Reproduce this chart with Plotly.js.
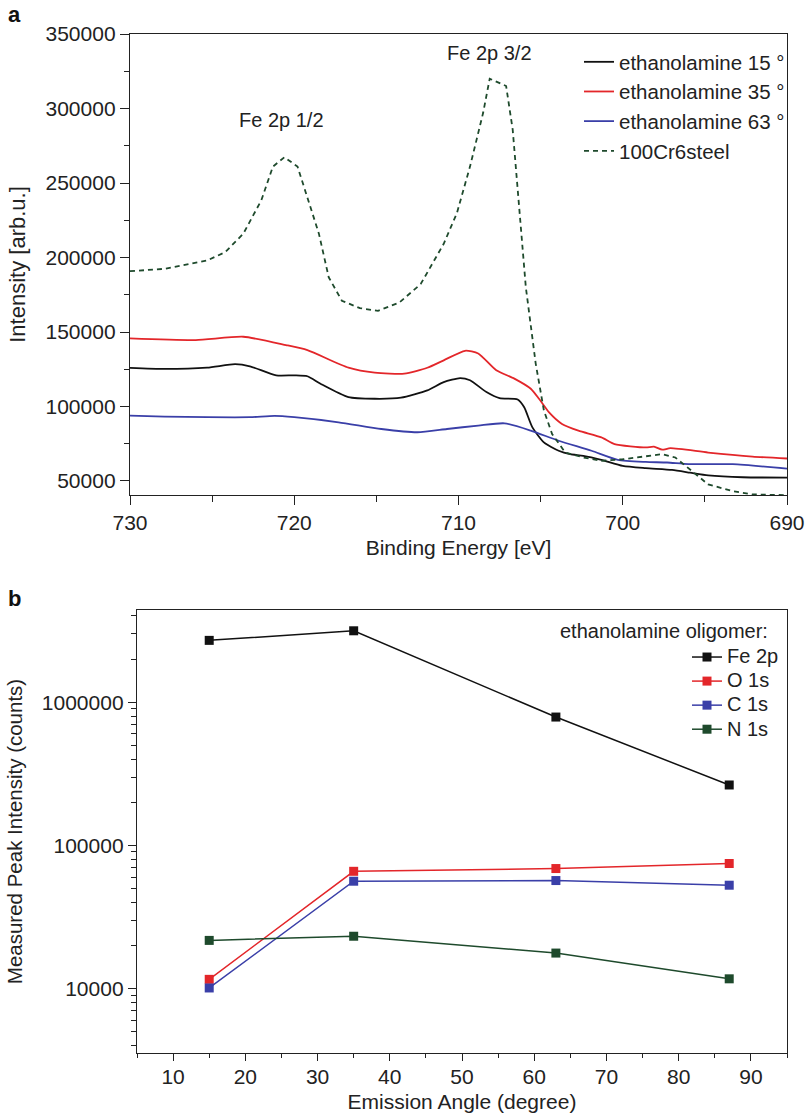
<!DOCTYPE html>
<html>
<head>
<meta charset="utf-8">
<script src="https://cdn.plot.ly/plotly-3.0.1.min.js"></script>
<style>html,body{margin:0;padding:0;background:#fff;}#chart{width:808px;height:1120px;}</style>
</head>
<body>
<div id="chart"></div>
<script>
// ---- Panel a: XPS Fe 2p spectra ----
const e15 = [730, 727.9, 725.3, 723.6, 722.7, 721.1, 720, 719.2, 718.4, 716.7, 715.1, 713.5, 711.9, 710.9, 709.9, 709.3, 708.3, 707.5, 706.4, 706, 705.5, 704.8, 703.9, 703.2, 702.4, 701.3, 700, 698.6, 697, 695.9, 694.8, 692.7, 690];
const i15 = [125900, 125200, 126100, 128400, 127000, 120900, 120900, 120300, 115300, 106300, 105200, 105900, 110800, 116400, 119100, 117600, 109700, 105600, 104700, 99500, 86000, 75900, 70300, 68000, 66900, 64200, 60100, 58600, 57400, 55600, 53800, 52500, 52300];

const e35 = [730, 726, 723.1, 720.5, 719.2, 716.7, 715.1, 713.3, 711.9, 710.9, 709.6, 708.8, 707.7, 706.6, 705.6, 705.1, 704.5, 703.7, 702.7, 701.3, 700.5, 698.6, 698.1, 697.6, 697.1, 694.8, 692.1, 690];
const i35 = [145700, 144600, 146800, 141200, 137800, 126100, 122700, 122000, 126000, 131000, 137400, 135600, 124300, 118700, 111900, 105200, 96200, 88300, 83800, 79300, 74800, 72500, 73000, 71000, 72000, 69100, 66400, 65100];

const e63 = [730, 727.9, 725.3, 722.7, 721.2, 720, 717.3, 714.7, 712.5, 710.7, 708.8, 707.2, 705.6, 703.9, 701.9, 700.3, 698.6, 697.3, 696, 693.3, 690];
const i63 = [93900, 93200, 92800, 92800, 93700, 92800, 89400, 84900, 82700, 84900, 87200, 88700, 83800, 77000, 70300, 64200, 62800, 62400, 61300, 61300, 58300];

const eSteel = [730, 727.9, 725.3, 724.2, 723.1, 722, 721.3, 720.6, 719.8, 719.2, 718.5, 717.9, 717.1, 716, 714.9, 713.6, 712.3, 710.9, 710.1, 709.3, 708.5, 708.1, 707.1, 706.7, 706.3, 705.9, 705.3, 704.8, 704.3, 703.5, 702.4, 701.3, 700, 698.7, 697.6, 696.8, 695.9, 694.8, 693.3, 692.1, 690];
const iSteel = [190800, 192400, 198000, 203600, 216000, 238500, 261000, 267300, 261000, 240800, 216000, 186700, 171000, 166000, 164200, 169800, 182200, 209200, 229700, 261000, 297100, 320000, 315100, 285800, 234000, 180000, 128800, 97300, 81500, 69100, 65800, 63500, 64600, 66400, 68000, 65800, 57900, 47700, 43200, 41000, 40500];

// ---- Panel b: peak intensity vs emission angle ----
const angles = [15, 35, 63, 87];
const fe2p = [2700000, 3150000, 787000, 264000];
const o1s = [11600, 65900, 68900, 74700];
const c1s = [10100, 56200, 56800, 52700];
const n1s = [21700, 23200, 17700, 11700];

const logTickVals = [10000, 100000, 1000000];
const logTickText = ['10000', '100000', '1000000'];

const W = 808, H = 1120;
const FONT = 'Liberation Sans, Arial, Helvetica, sans-serif';
const RED = '#e3262a', BLUE = '#3a3fa8', GREEN = '#1e4a2c', BLACK = '#111111';
const big = s => '<span style="font-size:20px">' + s + '</span>';

const traces = [
  {x: e15, y: i15, name: 'ethanolamine 15 °', mode: 'lines', line: {color: BLACK, width: 1.8, shape: 'spline', smoothing: 0.6}, xaxis: 'x', yaxis: 'y', legend: 'legend'},
  {x: e35, y: i35, name: 'ethanolamine 35 °', mode: 'lines', line: {color: RED, width: 1.8, shape: 'spline', smoothing: 0.6}, xaxis: 'x', yaxis: 'y', legend: 'legend'},
  {x: e63, y: i63, name: 'ethanolamine 63 °', mode: 'lines', line: {color: BLUE, width: 1.8, shape: 'spline', smoothing: 0.6}, xaxis: 'x', yaxis: 'y', legend: 'legend'},
  {x: eSteel, y: iSteel, name: '100Cr6steel', mode: 'lines', line: {color: GREEN, width: 1.8, dash: '5px,4px'}, xaxis: 'x', yaxis: 'y', legend: 'legend'},
  {x: angles, y: fe2p, name: big('Fe 2p'), mode: 'lines+markers', line: {color: BLACK, width: 1.5}, marker: {symbol: 'square', size: 9, color: BLACK}, xaxis: 'x2', yaxis: 'y2', legend: 'legend2'},
  {x: angles, y: o1s, name: big('O 1s'), mode: 'lines+markers', line: {color: RED, width: 1.5}, marker: {symbol: 'square', size: 9, color: RED}, xaxis: 'x2', yaxis: 'y2', legend: 'legend2'},
  {x: angles, y: c1s, name: big('C 1s'), mode: 'lines+markers', line: {color: BLUE, width: 1.5}, marker: {symbol: 'square', size: 9, color: BLUE}, xaxis: 'x2', yaxis: 'y2', legend: 'legend2'},
  {x: angles, y: n1s, name: big('N 1s'), mode: 'lines+markers', line: {color: GREEN, width: 1.5}, marker: {symbol: 'square', size: 9, color: GREEN}, xaxis: 'x2', yaxis: 'y2', legend: 'legend2'}
];

const axisCommon = {
  showline: true, linecolor: '#222', linewidth: 1.2, mirror: true,
  ticks: 'outside', ticklen: 9, tickwidth: 1, tickcolor: '#222',
  showgrid: false, zeroline: false,
  tickfont: {family: FONT, size: 21, color: '#222'},
  automargin: false
};

const layout = {
  width: W, height: H,
  margin: {l: 0, r: 0, t: 0, b: 0},
  paper_bgcolor: '#fff', plot_bgcolor: '#fff',
  font: {family: FONT, color: '#222'},
  showlegend: true,
  xaxis: Object.assign({}, axisCommon, {
    domain: [130 / W, 787 / W], anchor: 'y',
    range: [730, 690], tick0: 690, dtick: 10,
    minor: {dtick: 5, ticks: 'outside', ticklen: 6, tickcolor: '#222'},
    title: {text: 'Binding Energy [eV]', font: {family: FONT, size: 21, color: '#222'}, standoff: 6}
  }),
  yaxis: Object.assign({}, axisCommon, {
    domain: [1 - 495 / H, 1 - 34 / H], anchor: 'x',
    range: [40600, 350000], tick0: 0, dtick: 50000, tickformat: 'd',
    minor: {dtick: 25000, ticks: 'outside', ticklen: 5, tickcolor: '#222'},
    title: {text: 'Intensity [arb.u.]', font: {family: FONT, size: 22, color: '#222'}, standoff: 13}
  }),
  xaxis2: Object.assign({}, axisCommon, {
    domain: [137 / W, 787 / W], anchor: 'y2',
    range: [5, 95], tick0: 10, dtick: 10, ticklen: 7, ticklabelstandoff: -2,
    minor: {dtick: 5, ticks: 'outside', ticklen: 4, tickcolor: '#222'},
    title: {text: 'Emission Angle (degree)', font: {family: FONT, size: 21, color: '#222'}, standoff: 6}
  }),
  yaxis2: Object.assign({}, axisCommon, {
    domain: [1 - 1053 / H, 1 - 610 / H], anchor: 'x2',
    type: 'log', range: [Math.log10(3550), Math.log10(4400000)],
    tickvals: logTickVals, ticktext: logTickText, ticklen: 8,
    minor: {ticks: 'outside', ticklen: 5, tickcolor: '#222', dtick: 'D1'},
    title: {text: 'Measured Peak Intensity (counts)', font: {family: FONT, size: 20.5, color: '#222'}, standoff: 13}
  }),
  legend: {
    x: 579 / W, y: 1 - 42 / H, xanchor: 'left', yanchor: 'top',
    bgcolor: 'rgba(0,0,0,0)', borderwidth: 0,
    font: {family: FONT, size: 20.5, color: '#222'},
    tracegroupgap: 0, itemwidth: 30
  },
  legend2: {
    x: 687 / W, y: 1 - 640 / H, xanchor: 'left', yanchor: 'top',
    bgcolor: 'rgba(0,0,0,0)', borderwidth: 0,
    font: {family: FONT, size: 16.2, color: '#222'},
    tracegroupgap: 0, itemwidth: 30
  },
  annotations: [
    {text: '<b>a</b>', xref: 'paper', yref: 'paper', x: 6 / W, y: 1 - 15 / H, xanchor: 'left', yanchor: 'middle', showarrow: false, font: {family: FONT, size: 22, color: '#111'}},
    {text: '<b>b</b>', xref: 'paper', yref: 'paper', x: 6 / W, y: 1 - 598 / H, xanchor: 'left', yanchor: 'middle', showarrow: false, font: {family: FONT, size: 22, color: '#111'}},
    {text: 'Fe 2p 1/2', xref: 'x', yref: 'y', x: 720.8, y: 292600, xanchor: 'center', yanchor: 'middle', showarrow: false, font: {family: FONT, size: 20, color: '#222'}},
    {text: 'Fe 2p 3/2', xref: 'x', yref: 'y', x: 708.1, y: 337200, xanchor: 'center', yanchor: 'middle', showarrow: false, font: {family: FONT, size: 20, color: '#222'}},
    {text: 'ethanolamine oligomer:', xref: 'paper', yref: 'paper', x: 770 / W, y: 1 - 631 / H, xanchor: 'right', yanchor: 'middle', showarrow: false, font: {family: FONT, size: 20, color: '#222'}}
  ]
};

Plotly.newPlot('chart', traces, layout, {displayModeBar: false, staticPlot: true});
</script>
</body>
</html>
